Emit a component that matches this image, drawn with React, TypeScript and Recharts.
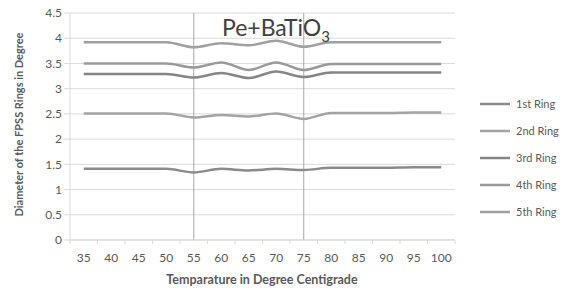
import { LineChart, Line, XAxis, YAxis, CartesianGrid, ReferenceLine } from 'recharts';

const temps = [35, 40, 45, 50, 55, 60, 65, 70, 75, 80, 85, 90, 95, 100];
const ring1 = [1.41, 1.41, 1.41, 1.41, 1.34, 1.41, 1.38, 1.41, 1.39, 1.43, 1.43, 1.43, 1.44, 1.44];
const ring2 = [2.51, 2.51, 2.51, 2.51, 2.43, 2.48, 2.45, 2.51, 2.4, 2.52, 2.52, 2.52, 2.53, 2.53];
const ring3 = [3.29, 3.29, 3.29, 3.29, 3.22, 3.31, 3.21, 3.34, 3.23, 3.32, 3.32, 3.32, 3.32, 3.32];
const ring4 = [3.5, 3.5, 3.5, 3.5, 3.42, 3.52, 3.37, 3.52, 3.37, 3.49, 3.49, 3.49, 3.49, 3.49];
const ring5 = [3.92, 3.92, 3.92, 3.92, 3.82, 3.9, 3.86, 3.95, 3.83, 3.92, 3.92, 3.92, 3.92, 3.92];
const yTicks = [0, 0.5, 1, 1.5, 2, 2.5, 3, 3.5, 4, 4.5];
const markedTemps = [55, 75];

const series = [
  { key: 'ring1', name: '1st Ring', color: '#8a8a8a' },
  { key: 'ring2', name: '2nd Ring', color: '#a3a3a3' },
  { key: 'ring3', name: '3rd Ring', color: '#858585' },
  { key: 'ring4', name: '4th Ring', color: '#9a9a9a' },
  { key: 'ring5', name: '5th Ring', color: '#a0a0a0' },
];

const data = temps.map((t, i) => ({
  temp: t,
  ring1: ring1[i],
  ring2: ring2[i],
  ring3: ring3[i],
  ring4: ring4[i],
  ring5: ring5[i],
}));

const font = 'Lato, "Open Sans", sans-serif';
const half = 13.75;

function XTick(props: any) {
  const { x, y, payload, index } = props;
  return (
    <g>
      <line x1={x - half} x2={x - half} y1={y - 8} y2={y - 4} stroke="#d9d9d9" />
      {index === temps.length - 1 && (
        <line x1={x + half} x2={x + half} y1={y - 8} y2={y - 4} stroke="#d9d9d9" />
      )}
      <text x={x} y={y + 14} textAnchor="middle" fill="#595959" fontSize={12} fontFamily={font}>
        {payload.value}
      </text>
    </g>
  );
}

export default function App() {
  return (
    <div style={{ position: 'absolute', left: 0, top: 0, width: 574, height: 290, background: '#fff', overflow: 'hidden' }}>
      <LineChart width={574} height={290} data={data} margin={{ top: 13, right: 119, left: 30, bottom: 20 }}>
        <CartesianGrid vertical={false} stroke="#d9d9d9" />
        <XAxis
          dataKey="temp"
          height={30}
          padding={{ left: half, right: half }}
          stroke="#d9d9d9"
          tickLine={false}
          tick={<XTick />}
          interval={0}
        />
        <YAxis
          width={40}
          domain={[0, 4.5]}
          ticks={yTicks}
          stroke="#d9d9d9"
          tickSize={6}
          tick={{ fill: '#595959', fontSize: 12, fontFamily: font }}
        />
        {markedTemps.map((t) => (
          <ReferenceLine key={t} x={t} stroke="#a6a6a6" strokeWidth={1} />
        ))}
        {series.map((s) => (
          <Line
            key={s.key}
            type="monotone"
            dataKey={s.key}
            name={s.name}
            stroke={s.color}
            strokeWidth={2.5}
            dot={false}
            isAnimationActive={false}
          />
        ))}
      </LineChart>
      <div style={{ position: 'absolute', left: 222, top: 13, fontFamily: font, fontSize: 23, color: '#404040', whiteSpace: 'nowrap' }}>
        Pe+BaTiO<sub style={{ fontSize: 15 }}>3</sub>
      </div>
      <div
        style={{
          position: 'absolute', left: 132, top: 272, width: 260, textAlign: 'center',
          fontFamily: font, fontSize: 12.5, fontWeight: 'bold', color: '#595959', whiteSpace: 'nowrap',
        }}
      >
        Temparature in Degree Centigrade
      </div>
      <div
        style={{
          position: 'absolute', left: 18, top: 126, width: 0, height: 0,
        }}
      >
        <div
          style={{
            position: 'absolute', left: -110, top: -8, width: 220, textAlign: 'center', transform: 'rotate(-90deg)',
            fontFamily: font, fontSize: 11, fontWeight: 'bold', color: '#595959', whiteSpace: 'nowrap',
          }}
        >
          Diameter of the FPSS Rings in Degree
        </div>
      </div>
      <div style={{ position: 'absolute', left: 480, top: 90, fontFamily: font, fontSize: 11, color: '#595959' }}>
        {series.map((s) => (
          <div key={s.key} style={{ display: 'flex', alignItems: 'center', height: 27, whiteSpace: 'nowrap' }}>
            <svg width={32} height={6}>
              <line x1={0} x2={30} y1={3} y2={3} stroke={s.color} strokeWidth={2.5} />
            </svg>
            <span style={{ marginLeft: 4 }}>{s.name}</span>
          </div>
        ))}
      </div>
    </div>
  );
}
